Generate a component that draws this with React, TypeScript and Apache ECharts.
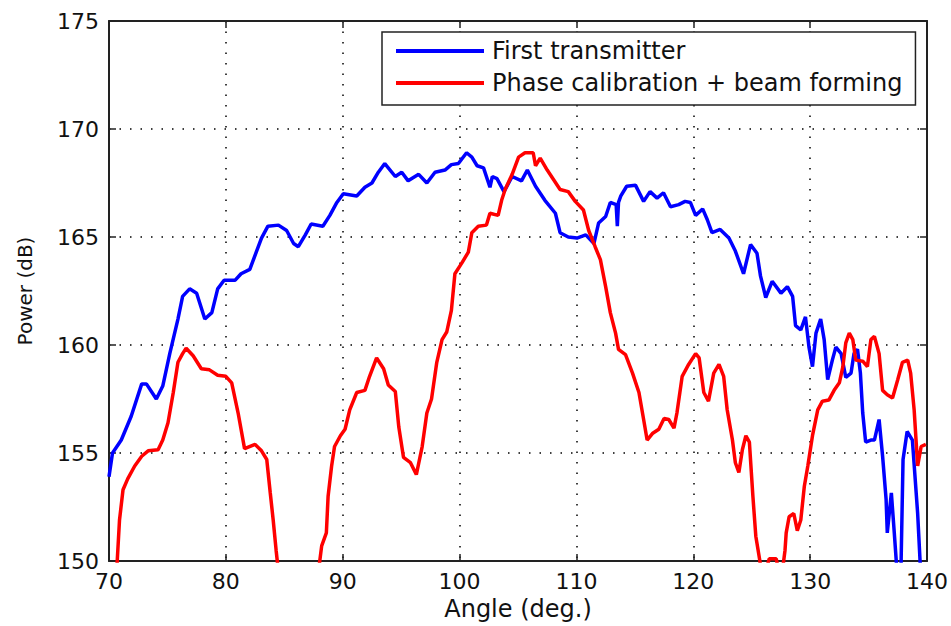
import React, { useEffect, useRef } from "react";
import * as echarts from "echarts";

const xTicks = [70, 80, 90, 100, 110, 120, 130, 140];
const yTicks = [150, 155, 160, 165, 170, 175];

const seriesNames = ["First transmitter", "Phase calibration + beam forming"];

const blueAngles = [
  70.0, 70.3, 71.05, 71.9, 72.8, 73.2, 74.05, 74.6, 75.2, 75.9, 76.3, 76.9, 77.5, 78.2, 78.8, 79.3, 79.85,
  80.8, 81.3, 82.05, 82.6, 83.05, 83.6, 84.5, 85.2, 85.8, 86.2, 86.8, 87.3, 88.3, 88.9, 89.5, 90.05,
  91.2, 91.9, 92.5, 93.05, 93.6, 94.5, 95.05, 95.6, 96.5, 97.2, 97.9, 98.75, 99.3, 99.9, 100.6, 101.05,
  101.5, 102.05, 102.6, 102.8, 103.2, 103.8, 104.5, 105.3, 105.8, 106.5, 107.3, 108.2, 108.6, 109.3,
  110.05, 110.8, 111.5, 111.9, 112.5, 112.9, 113.4, 113.5, 113.6, 113.8, 114.3, 115.05, 115.75, 116.3,
  116.9, 117.45, 118.05, 118.75, 119.3, 119.75, 120.2, 120.8, 121.2, 121.6, 122.3, 123.05, 123.6, 124.3,
  124.9, 125.45, 125.75, 126.2, 126.75, 127.5, 128.05, 128.5, 128.75, 129.2, 129.6, 129.9, 130.2, 130.5,
  130.9, 131.2, 131.5, 131.9, 132.2, 132.65, 133.05, 133.5, 133.75, 134.05, 134.3, 134.5, 134.75, 135.2,
  135.5, 135.9, 136.2, 136.5, 136.6, 136.95, 137.2, 137.5, 137.75, 137.95, 138.3, 138.75, 139.2, 139.5,
];
const bluePower = [
  153.9, 155.0, 155.6, 156.7, 158.2, 158.2, 157.5, 158.1, 159.6, 161.2, 162.25, 162.6, 162.4, 161.2, 161.5, 162.6, 163.0,
  163.0, 163.3, 163.5, 164.3, 164.95, 165.5, 165.55, 165.3, 164.7, 164.55, 165.1, 165.6, 165.5, 166.0, 166.6, 167.0,
  166.9, 167.3, 167.5, 168.0, 168.4, 167.8, 168.0, 167.6, 167.9, 167.5, 168.0, 168.1, 168.35, 168.4, 168.9, 168.7,
  168.3, 168.2, 167.3, 167.8, 167.7, 167.1, 167.8, 167.6, 168.1, 167.35, 166.7, 166.1, 165.2, 165.0,
  164.95, 165.1, 164.7, 165.65, 165.95, 166.6, 166.5, 165.5, 166.6, 166.9, 167.35, 167.4, 166.65, 167.1,
  166.8, 167.05, 166.4, 166.5, 166.65, 166.6, 166.0, 166.3, 165.8, 165.2, 165.35, 164.95, 164.35, 163.3,
  164.65, 164.25, 163.2, 162.2, 162.95, 162.4, 162.7, 162.25, 160.9, 160.7, 161.3, 159.9, 159.0, 160.55,
  161.2, 160.25, 158.4, 159.3, 159.9, 159.6, 158.5, 158.7, 159.6, 159.8, 158.7, 156.85, 155.5, 155.6,
  155.6, 156.55, 154.85, 152.85, 151.3, 153.15, 151.3, 149.0, 149.0, 154.7, 156.0, 155.6, 152.2, 149.0,
];

const redAngles = [
  70.6, 70.9, 71.2, 71.6, 72.2, 72.8, 73.35, 74.2, 74.6, 75.05, 75.5, 75.9, 76.3, 76.6, 77.2, 77.9, 78.6,
  79.3, 80.0, 80.5, 81.05, 81.6, 82.5, 83.05, 83.5, 83.8, 84.05, 84.3, 84.6, 86.0, 87.8, 88.2, 88.6, 88.75,
  89.05, 89.3, 89.8, 90.2, 90.6, 91.2, 91.9, 92.3, 92.9, 93.5, 93.9, 94.5, 94.8, 95.2, 95.8, 96.3, 96.8,
  97.2, 97.6, 98.05, 98.5, 98.9, 99.3, 99.6, 100.2, 100.75, 101.05, 101.6, 102.3, 102.6, 103.3, 103.6,
  103.9, 104.5, 105.05, 105.6, 106.3, 106.5, 106.9, 107.5, 108.05, 108.6, 109.3, 109.9, 110.6, 111.05,
  111.6, 112.05, 112.5, 112.9, 113.35, 113.6, 114.2, 114.8, 115.35, 115.75, 116.05, 116.5, 117.05, 117.5,
  117.9, 118.35, 118.6, 119.05, 119.6, 120.2, 120.5, 120.9, 121.3, 121.75, 122.2, 122.6, 122.9, 123.35,
  123.6, 123.9, 124.2, 124.5, 124.8, 125.1, 125.35, 125.7, 125.9, 126.5, 127.1, 127.5, 127.85, 127.95,
  128.2, 128.6, 128.9, 129.2, 129.5, 129.8, 130.2, 130.65, 131.05, 131.6, 132.05, 132.5, 132.8, 133.05,
  133.35, 133.65, 133.9, 134.5, 134.9, 135.2, 135.5, 135.9, 136.2, 136.6, 137.05, 137.5, 137.9, 138.35,
  138.6, 138.9, 139.2, 139.5, 139.9,
];
const redPower = [
  149.0, 151.9, 153.3, 153.8, 154.4, 154.85, 155.1, 155.15, 155.6, 156.4, 157.8, 159.2, 159.6, 159.85, 159.5, 158.9, 158.85,
  158.6, 158.55, 158.25, 156.85, 155.2, 155.4, 155.1, 154.7, 153.15, 151.9, 150.5, 149.0, 146.0, 149.0, 150.7, 151.3, 153.0,
  154.4, 155.3, 155.8, 156.1, 157.0, 157.8, 157.9, 158.55, 159.4, 158.9, 158.15, 157.85, 156.2, 154.8, 154.55, 154.0, 155.3,
  156.85, 157.5, 159.2, 160.25, 160.6, 161.6, 163.3, 163.8, 164.3, 165.2, 165.5, 165.55, 166.1, 166.0, 166.7,
  167.2, 167.9, 168.7, 168.9, 168.9, 168.3, 168.65, 168.1, 167.65, 167.2, 167.1, 166.65, 166.25, 165.3,
  164.55, 163.95, 162.7, 161.5, 160.55, 159.8, 159.55, 158.7, 157.8, 156.55, 155.6, 155.9, 156.1, 156.6,
  156.55, 156.15, 156.85, 158.55, 159.1, 159.6, 159.4, 157.8, 157.4, 158.7, 159.1, 158.55, 157.0, 155.6,
  154.55, 154.1, 155.15, 155.8, 155.5, 153.0, 151.15, 150.0, 149.0, 150.1, 150.1, 149.0, 150.5, 151.3,
  152.05, 152.2, 151.4, 151.9, 153.45, 154.4, 155.8, 157.0, 157.4, 157.45, 157.9, 158.25, 159.0, 160.1,
  160.55, 160.25, 159.3, 159.25, 159.0, 160.25, 160.4, 159.6, 157.9, 157.7, 157.55, 158.4, 159.2, 159.3,
  158.7, 157.0, 154.4, 155.3, 155.4,
];

const zip = (xs: number[], ys: number[]) => xs.map((x, i) => [x, ys[i]]);

const FONT = "DejaVu Sans";

export default function App() {
  const ref = useRef<HTMLDivElement>(null);
  useEffect(() => {
    if (!ref.current) return;
    const chart = echarts.init(ref.current, null, { renderer: "svg" });
    const axisLine = { show: true, lineStyle: { color: "#222", width: 2 } };
    const tick = { show: true, inside: true, length: 7, lineStyle: { color: "#222", width: 1.5 } };
    const split = { show: true, lineStyle: { color: "#000", width: 1.5, type: [1.5, 9] as any } };
    chart.setOption({
      animation: false,
      backgroundColor: "#fff",
      textStyle: { fontFamily: FONT },
      grid: { left: 109, top: 21, width: 819, height: 542, containLabel: false },
      legend: {
        orient: "vertical",
        left: 382,
        top: 32,
        padding: [7, 13, 10, 14],
        itemGap: 8,
        itemWidth: 88,
        itemHeight: 4,
        icon: "rect",
        backgroundColor: "#fff",
        borderColor: "#222",
        borderWidth: 1.5,
        borderRadius: 0,
        textStyle: { fontFamily: FONT, fontSize: 24, lineHeight: 24, color: "#111", padding: [0, 0, 0, 3] },
        data: seriesNames,
      },
      xAxis: [
        {
          type: "value",
          min: xTicks[0],
          max: xTicks[xTicks.length - 1],
          interval: 10,
          position: "bottom",
          name: "Angle (deg.)",
          nameLocation: "middle",
          nameGap: 36,
          nameTextStyle: { fontFamily: FONT, fontSize: 24, color: "#111" },
          axisLine,
          axisTick: tick,
          axisLabel: { fontFamily: FONT, fontSize: 22, color: "#111", margin: 9 },
          splitLine: split,
        },
        {
          type: "value",
          min: xTicks[0],
          max: xTicks[xTicks.length - 1],
          interval: 10,
          position: "top",
          axisLine,
          axisTick: tick,
          axisLabel: { show: false },
          splitLine: { show: false },
        },
      ],
      yAxis: [
        {
          type: "value",
          min: yTicks[0],
          max: yTicks[yTicks.length - 1],
          interval: 5,
          position: "left",
          name: "Power (dB)",
          nameLocation: "middle",
          nameGap: 74,
          nameTextStyle: { fontFamily: FONT, fontSize: 20, color: "#111" },
          axisLine,
          axisTick: tick,
          axisLabel: { fontFamily: FONT, fontSize: 22, color: "#111", margin: 10 },
          splitLine: split,
        },
        {
          type: "value",
          min: yTicks[0],
          max: yTicks[yTicks.length - 1],
          interval: 5,
          position: "right",
          axisLine,
          axisTick: tick,
          axisLabel: { show: false },
          splitLine: { show: false },
        },
      ],
      series: [
        {
          name: seriesNames[0],
          type: "line",
          xAxisIndex: 0,
          yAxisIndex: 0,
          data: zip(blueAngles, bluePower),
          symbol: "none",
          clip: true,
          lineStyle: { color: "#0000ff", width: 3.5 },
          itemStyle: { color: "#0000ff" },
        },
        {
          name: seriesNames[1],
          type: "line",
          xAxisIndex: 0,
          yAxisIndex: 0,
          data: zip(redAngles, redPower),
          symbol: "none",
          clip: true,
          lineStyle: { color: "#ff0000", width: 3.5 },
          itemStyle: { color: "#ff0000" },
        },
      ],
    });
    return () => chart.dispose();
  }, []);
  return (
    <div
      ref={ref}
      style={{ position: "absolute", left: 0, top: 0, width: 951, height: 626, background: "#fff" }}
    />
  );
}
